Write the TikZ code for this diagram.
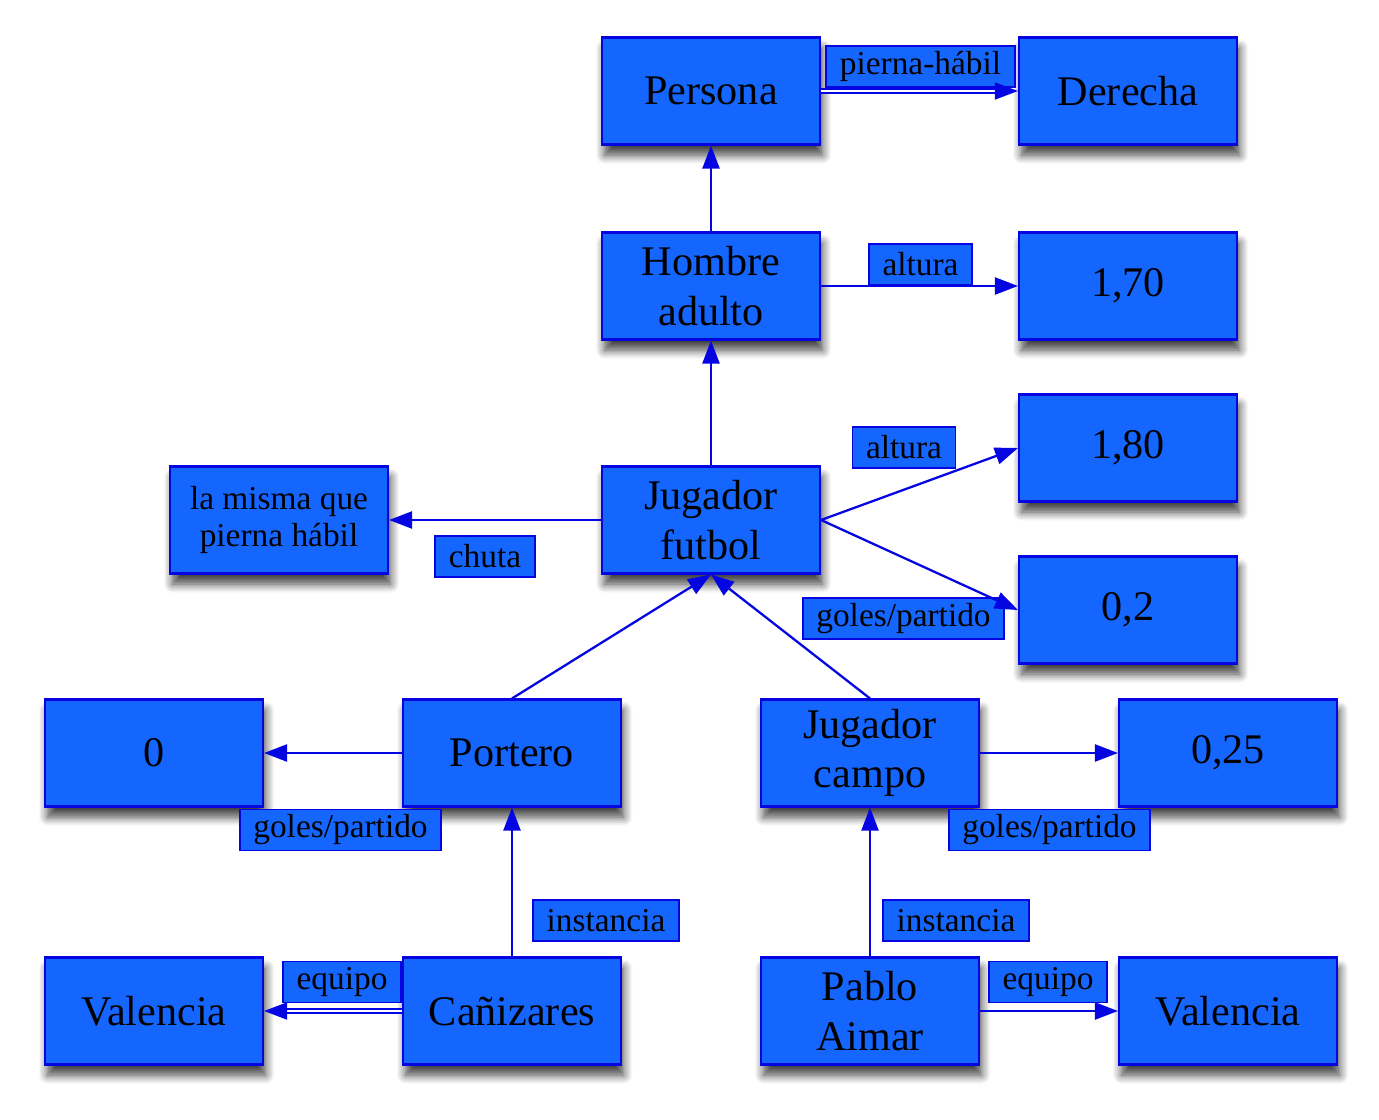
\documentclass[tikz,border=0pt]{standalone}
\usepackage{fontspec}
\setmainfont{Liberation Serif}
\usetikzlibrary{arrows.meta,shadows.blur}
\definecolor{boxblue}{RGB}{20,102,255}
\definecolor{lineblue}{RGB}{5,5,225}
\tikzset{
  concept/.style={draw=lineblue, line width=1.2pt, fill=boxblue,
    minimum width=4.36cm, minimum height=2.14cm, align=center,
    font=\fontsize{24}{28}\selectfont,
    blur shadow={shadow xshift=1.5pt, shadow yshift=-6pt, shadow blur radius=5pt,
      shadow blur steps=8, shadow opacity=75}},
  slot/.style={draw=lineblue, line width=1pt, fill=boxblue, minimum height=0.82cm,
    inner xsep=0.27cm, inner ysep=0pt, font=\fontsize{19}{22}\selectfont},
  link/.style={draw=lineblue, line width=1.3pt, -{Triangle[length=0.46cm,width=0.34cm]}},
  twin/.style={link, double=white, double distance=1.4pt, line width=0.9pt}
}
\begin{document}
\begin{tikzpicture}[x=0.02cm, y=-0.02cm]
        \useasboundingbox (0,0) rectangle (1379,1119);

        % Draw the concept boxes
        \node[concept] (persona) at (711,91) {Persona};
        \node[concept] (derecha) at (1128,91) {Derecha};
        \node[concept] (hombre) at (711,286) {Hombre\\adulto};
        \node[concept] (m170) at (1128,286) {1,70};
        \node[concept] (jugador) at (711,520) {Jugador\\futbol};
        \node[concept] (m180) at (1128,448) {1,80};
        \node[concept] (g02) at (1128,610) {0,2};
        \node[concept, font=\fontsize{19}{21.5}\selectfont] (misma) at (279,520) {la misma que\\pierna hábil};
        \node[concept] (g0) at (154,753) {0};
        \node[concept] (portero) at (512,753) {Portero};
        \node[concept] (campo) at (870,753) {Jugador\\campo};
        \node[concept] (g025) at (1228,753) {0,25};
        \node[concept] (valencia1) at (154,1011) {Valencia};
        \node[concept] (canizares) at (512,1011) {Cañizares};
        \node[concept] (aimar) at (870,1011) {Pablo\\Aimar};
        \node[concept] (valencia2) at (1228,1011) {Valencia};

        % Slot labels
        \node[slot] (lpierna) at (920.5,66.5) {pierna-hábil};
        \node[slot] (laltura1) at (920.5,264.5) {altura};
        \node[slot] (laltura2) at (904,447.5) {altura};
        \node[slot] (lgoles1) at (903.5,618.5) {goles/partido};
        \node[slot] (lchuta) at (485,556.5) {chuta};
        \node[slot] (lgoles2) at (340.5,830) {goles/partido};
        \node[slot] (lgoles3) at (1049.5,830) {goles/partido};
        \node[slot] (linst1) at (606,920.5) {instancia};
        \node[slot] (linst2) at (956,920.5) {instancia};
        \node[slot] (lequipo1) at (342,982) {equipo};
        \node[slot] (lequipo2) at (1048,982) {equipo};

        % Draw the links
        \draw[twin] (persona) -- (derecha);
        \draw[link] (hombre) -- (persona);
        \draw[link] (hombre) -- (m170);
        \draw[link] (jugador) -- (hombre);
        \draw[link] (jugador) -- (misma);
        \draw[link] (jugador.east) -- (m180.west);
        \draw[link] (jugador.east) -- (g02.west);
        \draw[link] (portero.north) -- (jugador.south);
        \draw[link] (campo.north) -- (jugador.south);
        \draw[link] (portero) -- (g0);
        \draw[link] (campo) -- (g025);
        \draw[link] (canizares) -- (portero);
        \draw[link] (aimar) -- (campo);
        \draw[twin] (canizares) -- (valencia1);
        \draw[link] (aimar) -- (valencia2);
    \end{tikzpicture}
\end{document}
